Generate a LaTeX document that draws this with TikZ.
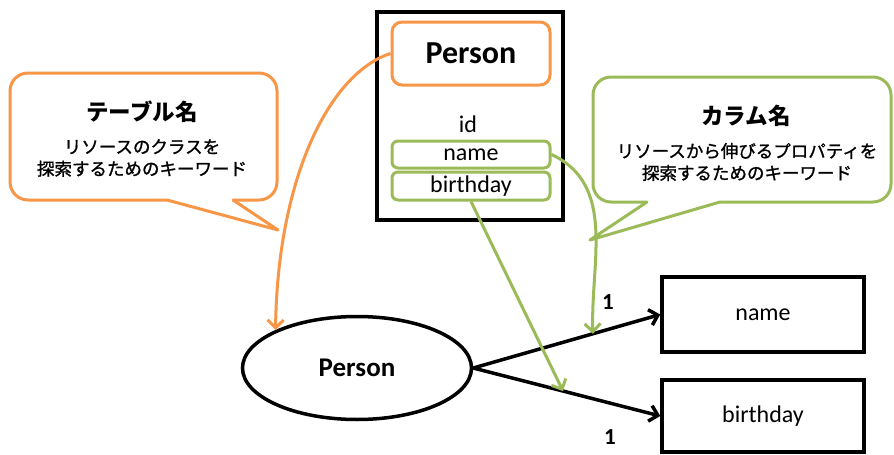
\documentclass[tikz,border=0pt]{standalone}
\usepackage{fontspec}
\setmainfont{Carlito}
\newfontfamily\jp{Noto Sans CJK JP}
\newfontfamily\jpmed[FakeBold=1.2]{Noto Sans CJK JP}
\usetikzlibrary{arrows.meta,shapes.geometric,calc}

\definecolor{tblorange}{HTML}{F79646}
\definecolor{colgreen}{HTML}{9BBB59}

\tikzset{
  x=1pt, y=1pt,
  fs/.style={font=\fontsize{#1}{#1}\selectfont},
  tablebox/.style={draw=black, line width=3.5pt, minimum width=186pt, minimum height=208pt},
  namebox/.style={draw=tblorange, line width=3pt, rounded corners=10pt, fill=white,
    minimum width=158pt, minimum height=63pt, font=\fontsize{32}{32}\selectfont\bfseries},
  fieldbox/.style={draw=colgreen, line width=3pt, rounded corners=6pt, fill=white,
    minimum width=158pt, minimum height=27pt, inner sep=0pt, font=\fontsize{24}{24}\selectfont},
  entity/.style={draw=black, line width=3.5pt, ellipse, minimum width=229pt, minimum height=103pt,
    inner sep=0pt, font=\fontsize{27}{27}\selectfont\bfseries},
  attr/.style={draw=black, line width=3.5pt, minimum width=202pt, inner sep=0pt,
    font=\fontsize{24}{24}\selectfont},
  rel/.style={draw=black, line width=3.5pt, -{Straight Barb[length=8pt,width=16pt]}},
  orangearrow/.style={draw=tblorange, line width=3pt, -{Straight Barb[length=8pt,width=16pt]}},
  greenarrow/.style={draw=colgreen, line width=3pt, -{Straight Barb[length=8pt,width=16pt]}},
  balloon/.style={line width=3pt, rounded corners=18pt, line join=round},
  tail/.style={line width=3pt, line join=round, line cap=round},
  card/.style={font=\fontsize{23}{23}\selectfont\bfseries},
  jptitle/.style={font=\fontsize{22.5}{22.5}\selectfont\jp\bfseries},
  jptext/.style={font=\fontsize{17.5}{22}\selectfont\jpmed, align=center},
}

\begin{document}
\begin{tikzpicture}
\useasboundingbox (0,0) rectangle (894,-455);

% table definition
\node[tablebox] (tbl) at (470,-116) {};
\node[namebox] (tname) at (471,-53.5) {Person};
\node[fs=24] (tid) at (468,-124) {id};
\node[fieldbox] (fname) at (471,-154.5) {name};
\node[fieldbox, minimum height=28pt] (fbirth) at (471,-186) {birthday};

% callout: table name
\draw[tblorange, balloon] (167,-200) -- (10,-200) -- (10,-73) -- (277,-73) -- (277,-200) -- (233,-200);
\draw[tblorange, tail] (167,-200) -- (278,-230) -- (233,-200);
\node[jptitle] (ttitle) at (142,-112) {テーブル名};
\node[jptext] (ttext) at (142,-158) {リソースのクラスを\\探索するためのキーワード};

% callout: column name
\draw[colgreen, balloon] (647,-202) -- (593,-202) -- (593,-77) -- (891,-77) -- (891,-202) -- (720,-202);
\draw[colgreen, tail] (647,-202) -- (590,-240) -- (720,-202);
\node[jptitle] (ctitle) at (746,-116) {カラム名};
\node[jptext] (ctext) at (747,-162) {リソースから伸びるプロパティを\\探索するためのキーワード};

% resource graph
\node[entity] (pe) at (357,-368) {Person};
\node[attr, minimum height=75pt] (rn) at (763,-314.5) {name};
\node[attr, minimum height=72pt] (rb) at (763,-416) {birthday};
\draw[rel] (pe.east) -- (rn.west);
\draw[rel] (pe.east) -- (rb.west);
\node[card] (c1) at (608,-302) {1};
\node[card] (c2) at (610,-437) {1};

% mapping arrows
\coordinate (pn) at ($(pe.east)!0.64!(rn.west)$);
\coordinate (pb) at ($(pe.east)!0.48!(rb.west)$);
\draw[orangearrow] (tname.west) .. controls +(-62,-20) and +(2,150) .. (pe.155);
\draw[greenarrow] (fname.east) to[out=-25, in=92] (pn);
\draw[greenarrow] (fbirth.south) -- (pb);
\end{tikzpicture}
\end{document}
